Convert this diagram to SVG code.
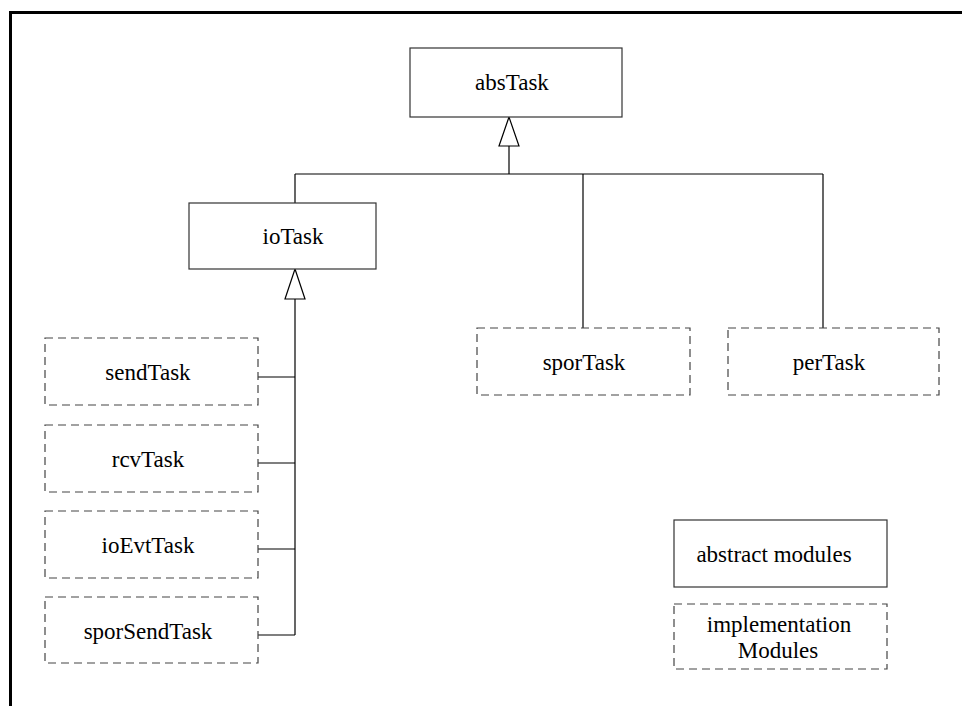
<svg xmlns="http://www.w3.org/2000/svg" width="962" height="706" viewBox="0 0 962 706">
<style>
.abs{fill:#fff;stroke:#333;stroke-width:1.2}
.impl{fill:#fff;stroke:#444;stroke-width:1.2;stroke-dasharray:8 5}
.lbl{font-family:"Liberation Serif","Times New Roman",serif;font-size:23px;fill:#000;text-anchor:middle}
.ln{stroke:#000;stroke-width:1.2;fill:none}
.tri{fill:#fff;stroke:#000;stroke-width:1.2}
</style>
<rect width="962" height="706" fill="#fff"/>
<path d="M10.5 706 V12.5 H962" fill="none" stroke="#000" stroke-width="3"/>
<g id="connectors">
<polygon class="tri" points="509,117 499,146 519,146"/>
<line class="ln" x1="509" y1="146" x2="509" y2="174"/>
<line class="ln" x1="295" y1="174" x2="823" y2="174"/>
<line class="ln" x1="295" y1="174" x2="295" y2="203"/>
<line class="ln" x1="583" y1="174" x2="583" y2="328"/>
<line class="ln" x1="823" y1="174" x2="823" y2="328"/>
<polygon class="tri" points="295,269 285,299 305,299"/>
<line class="ln" x1="295" y1="299" x2="295" y2="635"/>
<line class="ln" x1="258" y1="377" x2="295" y2="377"/>
<line class="ln" x1="258" y1="463" x2="295" y2="463"/>
<line class="ln" x1="258" y1="549" x2="295" y2="549"/>
<line class="ln" x1="258" y1="635" x2="295" y2="635"/>
</g>
<g id="absTask"><rect class="abs" x="410" y="48" width="212" height="69"/><text class="lbl" x="512" y="90">absTask</text></g>
<g id="ioTask"><rect class="abs" x="189" y="203" width="187" height="66"/><text class="lbl" x="293" y="244">ioTask</text></g>
<g id="sendTask"><rect class="impl" x="45" y="338" width="213" height="67"/><text class="lbl" x="148" y="380">sendTask</text></g>
<g id="rcvTask"><rect class="impl" x="45" y="425" width="213" height="67"/><text class="lbl" x="148" y="467">rcvTask</text></g>
<g id="ioEvtTask"><rect class="impl" x="45" y="511" width="213" height="67"/><text class="lbl" x="148" y="553">ioEvtTask</text></g>
<g id="sporSendTask"><rect class="impl" x="45" y="597" width="213" height="66"/><text class="lbl" x="148" y="639">sporSendTask</text></g>
<g id="sporTask"><rect class="impl" x="477" y="328" width="213" height="67"/><text class="lbl" x="584" y="370">sporTask</text></g>
<g id="perTask"><rect class="impl" x="728" y="328" width="211" height="67"/><text class="lbl" x="829" y="370">perTask</text></g>
<g id="legendAbstract"><rect class="abs" x="674" y="520" width="213" height="67"/><text class="lbl" x="774" y="562">abstract modules</text></g>
<g id="legendImpl"><rect class="impl" x="674" y="604" width="213" height="65"/><text class="lbl" x="779" y="632">implementation</text><text class="lbl" x="778" y="658">Modules</text></g>
</svg>
